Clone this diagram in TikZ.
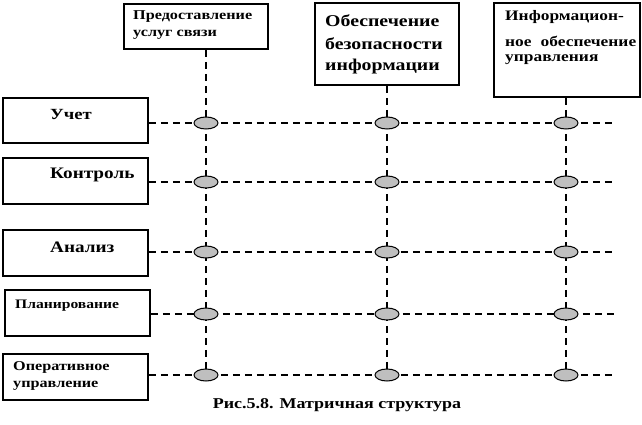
\documentclass[tikz,border=0pt]{standalone}
\usepackage{fontspec}
\setmainfont{Liberation Serif}
\newfontfamily\wfont[FakeStretch=1.2]{Liberation Serif}
\usetikzlibrary{shapes.geometric}
\newcommand{\fsz}[1]{\wfont\bfseries\fontsize{#1}{#1}\selectfont}
\begin{document}
\begin{tikzpicture}[x=1pt,y=-1pt,
  box/.style={draw=black, line width=1.8pt, fill=white, anchor=north west, inner sep=0pt},
  lbl/.style={anchor=west, inner sep=0pt},
  conn/.style={draw=black, line width=1.6pt, dash pattern=on 7pt off 5pt},
  knot/.style={ellipse, draw=black, line width=1pt, fill=black!25, minimum width=24pt, minimum height=12pt, inner sep=0pt}
]
\useasboundingbox (0,0) rectangle (642,425);

% top boxes
\node[box, minimum width=144pt, minimum height=45pt] (t1) at (123,3) {};
\node[box, minimum width=144pt, minimum height=82pt] (t2) at (314,2) {};
\node[box, minimum width=146pt, minimum height=94pt] (t3) at (493,2) {};

% left boxes
\node[box, minimum width=145pt, minimum height=45pt] (r1) at (2,97) {};
\node[box, minimum width=145pt, minimum height=46pt] (r2) at (2,157) {};
\node[box, minimum width=145pt, minimum height=46pt] (r3) at (2,229) {};
\node[box, minimum width=145pt, minimum height=46pt] (r4) at (4,289) {};
\node[box, minimum width=145pt, minimum height=46pt] (r5) at (2,353) {};

% column / row ends
\coordinate (c1) at (206,381);
\coordinate (c2) at (387,381);
\coordinate (c3) at (566,381);
\coordinate (e1) at (616,123);
\coordinate (e2) at (616,182);
\coordinate (e3) at (616,252);
\coordinate (e4) at (616,314);
\coordinate (e5) at (616,375);

% connectors
\draw[conn] (t1.south -| c1) -- (c1);
\draw[conn] (t2.south -| c2) -- (c2);
\draw[conn] (t3.south -| c3) -- (c3);
\draw[conn] (r1.east |- e1) -- (e1);
\draw[conn] (r2.east |- e2) -- (e2);
\draw[conn] (r3.east |- e3) -- (e3);
\draw[conn] (r4.east |- e4) -- (e4);
\draw[conn] (r5.east |- e5) -- (e5);

% knots
\foreach \r/\y in {1/123,2/182,3/252,4/314,5/375}{
  \node[knot] (k\r a) at (206,\y) {};
  \node[knot] (k\r b) at (387,\y) {};
  \node[knot] (k\r c) at (566,\y) {};
}

% top labels
\node[lbl, font=\fsz{13.5}] (t1a) at (133,17) {Предоставление};
\node[lbl, font=\fsz{13.5}] (t1b) at (133,35) {услуг связи};

\node[lbl, font=\fsz{16.5}] (t2a) at (325,21) {Обеспечение};
\node[lbl, font=\fsz{16.5}] (t2b) at (325,44) {безопасности};
\node[lbl, font=\fsz{16.5}] (t2c) at (325,67) {информации};

\node[lbl, font=\fsz{14.5}] (t3a) at (505,17) {Информацион-};
\node[lbl, font=\fsz{14.5}, text width=131pt, align=justify] (t3b) at (505,41) {ное\hfill обеспечение};
\node[lbl, font=\fsz{14.5}] (t3c) at (505,60) {управления};

% left labels
\node[lbl, font=\fsz{15.5}] (l1) at (50,115) {Учет};
\node[lbl, font=\fsz{16}] (l2) at (50,175) {Контроль};
\node[lbl, font=\fsz{16}] (l3) at (50,247) {Анализ};
\node[lbl, font=\fsz{13}] (l4) at (15,306) {Планирование};
\node[lbl, font=\fsz{13.5}] (l5a) at (13,367) {Оперативное};
\node[lbl, font=\fsz{13.5}] (l5b) at (13,386) {управление};

% caption
\node[inner sep=0pt, font=\fsz{15}] (cap) at (337,405) {Рис.5.8. Матричная структура};
\end{tikzpicture}
\end{document}
